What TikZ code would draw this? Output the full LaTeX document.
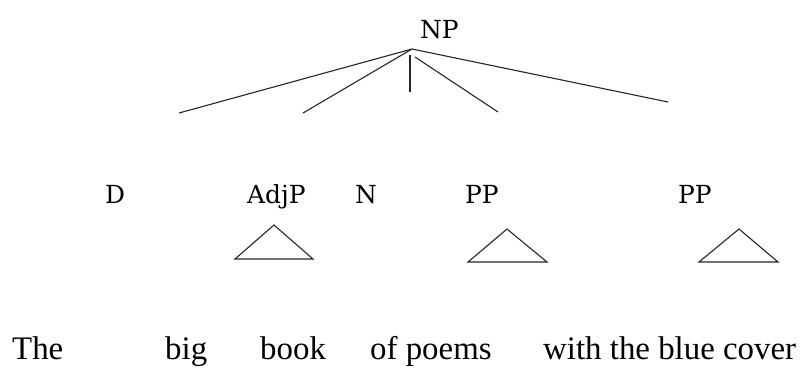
\documentclass[tikz,border=0pt]{standalone}
\usepackage{fontspec}
\newfontfamily\wordfont{Liberation Serif}
\newfontfamily\catfont{DejaVu Serif}
\begin{document}
\begin{tikzpicture}[x=1bp,y=-1bp,
  cat/.style={anchor=base west,inner sep=0pt,font=\catfont\fontsize{25}{28}\selectfont},
  word/.style={anchor=base west,inner sep=0pt,font=\wordfont\fontsize{33}{37}\selectfont},
  branch/.style={line width=1.1bp,black!85},
  roof/.style={line width=1.1bp,black!85,line join=miter}]
\useasboundingbox (0,0) rectangle (803,367);

% categories
\node[cat] (np)   at (420,38)  {NP};
\node[cat] (d)    at (105,203) {D};
\node[cat] (adjp) at (247,203) {AdjP};
\node[cat] (n)    at (355,203) {N};
\node[cat] (pp1)  at (465,203) {PP};
\node[cat] (pp2)  at (678,203) {PP};

% branches from the NP
\coordinate (apex) at (412,49);
\coordinate (bD)   at (179,113);
\coordinate (bA)   at (303,113);
\coordinate (nTop) at (410,55);
\coordinate (bN)   at (410,92);
\coordinate (pTop) at (415,57);
\coordinate (bP1)  at (498,112);
\coordinate (bP2)  at (668,102);
\draw[branch] (apex) -- (bD);
\draw[branch] (apex) -- (bA);
\draw[branch] (nTop) -- (bN);
\draw[branch] (pTop) -- (bP1);
\draw[branch] (apex) -- (bP2);

% roofs under the phrases
\draw[roof] (274,225) -- (235,259) -- (313,259) -- cycle;
\draw[roof] (507,229) -- (468,262) -- (547,262) -- cycle;
\draw[roof] (739,229) -- (699,262) -- (778,262) -- cycle;

% words
\node[word] (w1) at (12,359)  {The};
\node[word] (w2) at (165,359) {big};
\node[word] (w3) at (260,359) {book};
\node[word] (w4) at (370,359) {of poems};
\node[word] (w5) at (543,359) {with the blue cover};
\end{tikzpicture}
\end{document}
